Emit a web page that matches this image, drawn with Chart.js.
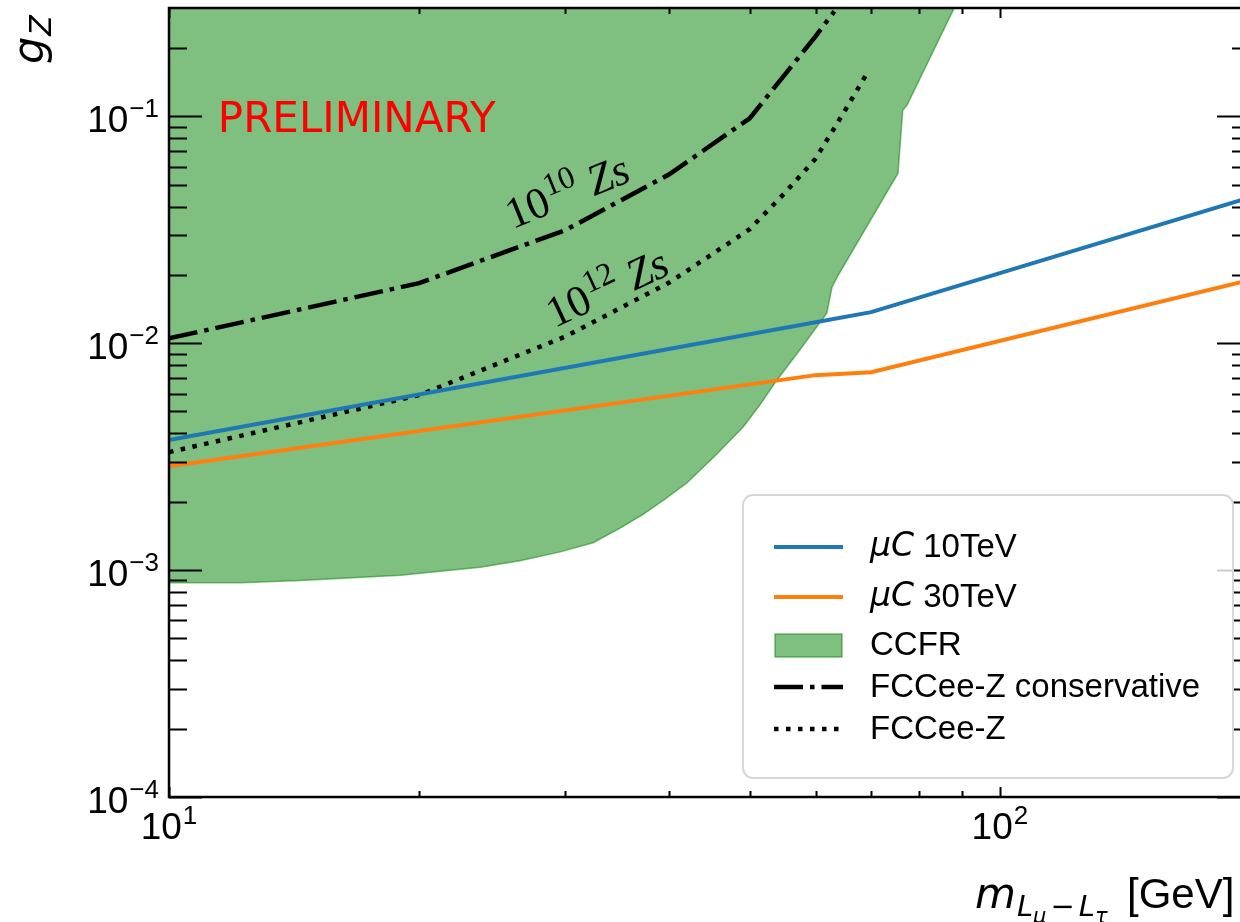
<!DOCTYPE html>
<html>
<head>
<meta charset="utf-8">
<script src="https://cdn.jsdelivr.net/npm/chart.js@4.4.1/dist/chart.umd.min.js"></script>
<style>
html, body { margin: 0; padding: 0; background: #fff; overflow: hidden; }
#wrap { width: 1240px; height: 922px; overflow: hidden; }
canvas { display: block; }
</style>
</head>
<body>
<div id="wrap"><canvas id="chart" width="1262" height="922"></canvas></div>
<script>
// values
const mass10 = [10, 60, 70, 200];
const gz10 = [0.00374, 0.01237, 0.0137, 0.0439];

const mass30 = [10, 60, 70, 200];
const gz30 = [0.00287, 0.00723, 0.00745, 0.0190];

const ccfrMass = [10, 12.2, 14.4, 19, 23.7, 26.45, 29.5, 32.4, 34.9, 37.2, 39.5, 42, 45.4, 49.1, 51.4, 53.9, 57.4, 61.9, 62.8, 63.7, 75.4, 76.4, 77.3, 88.5];
const ccfrGz = [8.8e-4, 8.8e-4, 9.0e-4, 9.5e-4, 1.03e-3, 1.1e-3, 1.2e-3, 1.32e-3, 1.53e-3, 1.76e-3, 2.05e-3, 2.42e-3, 3.18e-3, 4.27e-3, 5.33e-3, 6.87e-3, 9.3e-3, 0.01356, 0.01765, 0.01953, 0.0561, 0.1063, 0.1118, 0.31];

const fccConsMass = [10, 20, 30, 40, 50, 60, 63.2];
const fccConsGz = [0.0105, 0.0184, 0.0315, 0.0555, 0.098, 0.225, 0.29];

const fccMass = [10, 20, 30, 40, 50, 55, 60, 65, 69];
const fccGz = [0.00331, 0.0059, 0.0107, 0.0185, 0.0318, 0.0456, 0.065, 0.105, 0.152];

const xMajor = [10, 100];
const xTickExp = ['1', '2'];
const yMajor = [1e-4, 1e-3, 1e-2, 1e-1];
const yTickExp = ['\u22124', '\u22123', '\u22122', '\u22121'];

const legendMath = ['\u03bcC', '\u03bcC', '', '', ''];
const legendText = [' 10TeV', ' 30TeV', 'CCFR', 'FCCee-Z conservative', 'FCCee-Z'];

const pts = (xs, ys) => xs.map((x, i) => ({ x: x, y: ys[i] }));

const green = 'rgba(0,128,0,0.5)';

const datasets = [
    {
        label: 'muC 10TeV',
        data: pts(mass10, gz10),
        borderColor: '#1f77b4',
        borderWidth: 4,
        order: 1
    },
    {
        label: 'muC 30TeV',
        data: pts(mass30, gz30),
        borderColor: '#ff7f0e',
        borderWidth: 4,
        order: 1
    },
    {
        label: 'CCFR',
        data: pts(ccfrMass, ccfrGz),
        borderColor: green,
        backgroundColor: green,
        borderWidth: 1.5,
        fill: 'end',
        order: 5
    },
    {
        label: 'FCCee-Z conservative',
        data: pts(fccConsMass, fccConsGz),
        borderColor: '#000',
        borderWidth: 4.5,
        borderDash: [29, 7, 4.5, 7],
        order: 2
    },
    {
        label: 'FCCee-Z',
        data: pts(fccMass, fccGz),
        borderColor: '#000',
        borderWidth: 4.5,
        borderDash: [4.5, 7.5],
        order: 2
    }
];

function drawPow(ctx, x, y, base, exp, baseFont, expFont, rise) {
    ctx.font = baseFont;
    const wb = ctx.measureText(base).width;
    ctx.fillText(base, x, y);
    ctx.font = expFont;
    const we = ctx.measureText(exp).width;
    ctx.fillText(exp, x + wb + 1, y - rise);
    return wb + we + 1;
}

function powWidth(ctx, base, exp, baseFont, expFont) {
    ctx.font = baseFont;
    const wb = ctx.measureText(base).width;
    ctx.font = expFont;
    return wb + ctx.measureText(exp).width + 1;
}

const decor = {
    id: 'decor',
    beforeDraw(chart) {
        const ctx = chart.ctx;
        ctx.save();
        ctx.fillStyle = '#fff';
        ctx.fillRect(0, 0, chart.width, chart.height);
        ctx.restore();
    },
    afterDatasetsDraw(chart) {
        const ctx = chart.ctx;
        const xs = chart.scales.x, ys = chart.scales.y;
        ctx.save();
        ctx.textBaseline = 'alphabetic';
        ctx.textAlign = 'left';

        // PRELIMINARY
        ctx.fillStyle = '#ff0000';
        ctx.font = '42px "DejaVu Sans"';
        ctx.fillText('PRELIMINARY', xs.getPixelForValue(11.45), ys.getPixelForValue(0.085));

        // rotated annotations on the FCC curves
        ctx.fillStyle = '#000';
        const notes = [
            { x: 25.9, y: 0.0318, exp: '10', angle: 22 },
            { x: 29.1, y: 0.01164, exp: '12', angle: 25 }
        ];
        notes.forEach(n => {
            ctx.save();
            ctx.translate(xs.getPixelForValue(n.x), ys.getPixelForValue(n.y));
            ctx.rotate(-n.angle * Math.PI / 180);
            const w = drawPow(ctx, 0, 0, '10', n.exp, '44px "Liberation Serif"', '32px "Liberation Serif"', 17);
            ctx.font = 'italic 44px "Liberation Serif"';
            ctx.fillText('Zs', w + 11, 0);
            ctx.restore();
        });
        ctx.restore();
    },
    afterDraw(chart) {
        const ctx = chart.ctx;
        const a = chart.chartArea;
        const xs = chart.scales.x, ys = chart.scales.y;
        ctx.save();
        ctx.strokeStyle = '#000';
        ctx.lineWidth = 2;

        // y ticks, inward on both sides
        for (let e = -4; e <= -1; e++) {
            for (let k = 1; k <= 9; k++) {
                const v = k * Math.pow(10, e);
                if (v > ys.max) continue;
                const py = Math.round(ys.getPixelForValue(v)) + 0.5;
                const len = k === 1 ? 33 : 18;
                ctx.beginPath();
                ctx.moveTo(a.left, py); ctx.lineTo(a.left + len, py);
                ctx.moveTo(a.right, py); ctx.lineTo(a.right - len, py);
                ctx.stroke();
            }
        }
        // x ticks, inward top and bottom
        for (let e = 1; e <= 2; e++) {
            for (let k = 1; k <= 9; k++) {
                const v = k * Math.pow(10, e);
                if (v > xs.max) continue;
                const px = Math.round(xs.getPixelForValue(v)) + 0.5;
                const len = k === 1 ? 10 : 6;
                ctx.beginPath();
                ctx.moveTo(px, a.bottom); ctx.lineTo(px, a.bottom - len);
                ctx.moveTo(px, a.top); ctx.lineTo(px, a.top + len);
                ctx.stroke();
            }
        }
        // frame
        ctx.lineWidth = 2.5;
        ctx.strokeRect(a.left, a.top, a.right - a.left, a.bottom - a.top);

        // tick labels
        ctx.fillStyle = '#000';
        ctx.textBaseline = 'alphabetic';
        ctx.textAlign = 'left';
        const bf = '37px "Liberation Sans"', ef = '26px "Liberation Sans"';
        yMajor.forEach((v, i) => {
            const py = ys.getPixelForValue(v);
            const w = powWidth(ctx, '10', yTickExp[i], bf, ef);
            drawPow(ctx, a.left - 10 - w, py + 16, '10', yTickExp[i], bf, ef, 15);
        });
        xMajor.forEach((v, i) => {
            const px = xs.getPixelForValue(v);
            const w = powWidth(ctx, '10', xTickExp[i], bf, ef);
            drawPow(ctx, px - w / 2, a.bottom + 42, '10', xTickExp[i], bf, ef, 15);
        });

        // y axis title g_Z
        ctx.save();
        ctx.translate(43, 64);
        ctx.rotate(-Math.PI / 2);
        ctx.font = 'italic 43px "DejaVu Sans"';
        const wg = ctx.measureText('g').width;
        ctx.fillText('g', 0, 0);
        ctx.font = 'italic 30px "DejaVu Sans"';
        ctx.fillText('Z', wg + 1, 8);
        ctx.restore();

        // x axis title m_{L_mu - L_tau} [GeV]
        let tx = 975;
        const tb = 908;
        ctx.font = 'italic 42px "DejaVu Sans"';
        ctx.fillText('m', tx, tb); tx += ctx.measureText('m').width + 1;
        ctx.font = 'italic 29px "DejaVu Sans"';
        ctx.fillText('L', tx, tb + 8); tx += ctx.measureText('L').width;
        ctx.font = 'italic 21px "DejaVu Sans"';
        ctx.fillText('\u03bc', tx, tb + 15); tx += ctx.measureText('\u03bc').width + 4;
        ctx.font = '29px "DejaVu Sans"';
        ctx.fillText('\u2212', tx, tb + 8); tx += ctx.measureText('\u2212').width + 4;
        ctx.font = 'italic 29px "DejaVu Sans"';
        ctx.fillText('L', tx, tb + 8); tx += ctx.measureText('L').width;
        ctx.font = 'italic 21px "DejaVu Sans"';
        ctx.fillText('\u03c4', tx, tb + 15);
        ctx.font = '42px "Liberation Sans"';
        ctx.fillText('[GeV]', 1127, tb);

        // legend
        const lx = 743, ly = 495, lw = 490, lh = 283;
        ctx.beginPath();
        ctx.roundRect(lx, ly, lw, lh, 10);
        ctx.fillStyle = 'rgba(255,255,255,0.8)';
        ctx.fill();
        ctx.strokeStyle = '#d8d8d8';
        ctx.lineWidth = 2;
        ctx.stroke();

        const rows = [52, 102, 150, 192, 234];
        const dsets = chart.data.datasets;
        rows.forEach((off, i) => {
            const cy = ly + off;
            const d = dsets[i];
            if (d.fill) {
                ctx.fillStyle = d.backgroundColor;
                ctx.fillRect(lx + 32, cy - 11, 67, 23);
                ctx.strokeStyle = d.borderColor;
                ctx.lineWidth = 1.5;
                ctx.strokeRect(lx + 32, cy - 11, 67, 23);
            } else {
                ctx.strokeStyle = d.borderColor;
                ctx.lineWidth = d.borderWidth;
                ctx.setLineDash(d.borderDash || []);
                ctx.beginPath();
                ctx.moveTo(lx + 31, cy); ctx.lineTo(lx + 100, cy);
                ctx.stroke();
                ctx.setLineDash([]);
            }
            ctx.fillStyle = '#000';
            let tx2 = lx + 127;
            if (legendMath[i]) {
                ctx.font = 'italic 33px "DejaVu Sans"';
                ctx.fillText(legendMath[i], tx2, cy + 9);
                tx2 += ctx.measureText(legendMath[i]).width;
            }
            ctx.font = '33px "Liberation Sans"';
            ctx.fillText(legendText[i], tx2, cy + 10);
        });
        ctx.restore();
    }
};

new Chart(document.getElementById('chart').getContext('2d'), {
    type: 'line',
    data: { datasets: datasets },
    options: {
        responsive: false,
        animation: false,
        devicePixelRatio: 1,
        layout: { padding: { left: 169, top: 8, right: 12, bottom: 125 } },
        elements: {
            point: { radius: 0, hoverRadius: 0 },
            line: { tension: 0, borderCapStyle: 'butt' }
        },
        plugins: {
            legend: { display: false },
            tooltip: { enabled: false }
        },
        scales: {
            x: {
                type: 'logarithmic',
                min: 10,
                max: 200,
                display: false
            },
            y: {
                type: 'logarithmic',
                min: 1e-4,
                max: 0.3,
                display: false
            }
        }
    },
    plugins: [decor]
});
</script>
</body>
</html>
